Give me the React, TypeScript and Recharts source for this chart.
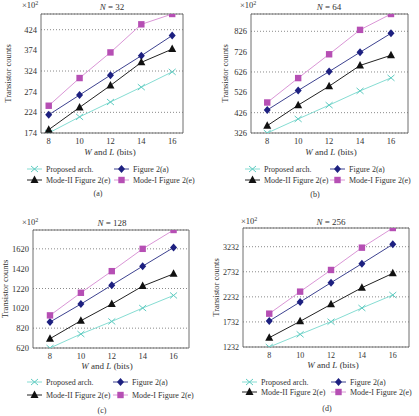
import React from 'react';
import { LineChart, Line, XAxis, YAxis, CartesianGrid, ReferenceArea } from 'recharts';

// word length W = L (bits)
const bits = [8, 10, 12, 14, 16];

// N = 32 (x10^2 transistors)
const proposedA = [174, 213, 249, 285, 322];
const fig2aA = [218, 266, 314, 361, 410];
const modeIIA = [182, 236, 289, 345, 377];
const modeIA = [240, 307, 369, 437, 462];
const ticksA = [174, 224, 274, 324, 374, 424];

// N = 64
const proposedB = [326, 395, 463, 533, 597];
const fig2aB = [439, 535, 628, 723, 816];
const modeIIB = [362, 463, 556, 658, 708];
const modeIB = [476, 596, 713, 833, 911];
const ticksB = [326, 426, 526, 626, 726, 826];

// N = 128
const proposedC = [620, 761, 888, 1023, 1150];
const fig2aC = [882, 1063, 1254, 1445, 1633];
const modeIIC = [714, 895, 1063, 1244, 1368];
const modeIC = [949, 1177, 1395, 1620, 1810];
const ticksC = [620, 820, 1020, 1220, 1420, 1620];

// N = 256
const proposedD = [1232, 1485, 1737, 2010, 2269];
const fig2aD = [1751, 2130, 2515, 2894, 3280];
const modeIID = [1418, 1744, 2083, 2415, 2701];
const modeID = [1897, 2336, 2768, 3213, 3605];
const ticksD = [1232, 1732, 2232, 2732, 3232];

const bitTicks = [8, 10, 12, 14, 16];
const seriesNames = ['Proposed arch.', 'Figure 2(a)', 'Mode-II Figure 2(e)', 'Mode-I Figure 2(e)'];

const FONT = "'Liberation Serif', 'DejaVu Serif', serif";

type Kind = 'cross' | 'diamond' | 'triangle' | 'square';

const STYLES: { key: string; kind: Kind; line: string; mark: string }[] = [
  { key: 'proposed', kind: 'cross', line: '#86ddd3', mark: '#5fcbc1' },
  { key: 'fig2a', kind: 'diamond', line: '#3d4290', mark: '#1d2080' },
  { key: 'modeII', kind: 'triangle', line: '#222222', mark: '#111111' },
  { key: 'modeI', kind: 'square', line: '#da96d6', mark: '#b64fb4' },
];

const Marker = ({ kind, cx, cy, color }: { kind: Kind; cx: number; cy: number; color: string }) => {
  if (kind === 'cross') {
    return (
      <g stroke={color} strokeWidth={1}>
        <line x1={cx - 3.5} y1={cy - 3} x2={cx + 3.5} y2={cy + 3} />
        <line x1={cx - 3.5} y1={cy + 3} x2={cx + 3.5} y2={cy - 3} />
      </g>
    );
  }
  if (kind === 'diamond') {
    return <polygon points={`${cx},${cy - 4} ${cx + 3.5},${cy} ${cx},${cy + 4} ${cx - 3.5},${cy}`} fill={color} />;
  }
  if (kind === 'triangle') {
    return <polygon points={`${cx},${cy - 4.5} ${cx + 4},${cy + 3} ${cx - 4},${cy + 3}`} fill={color} />;
  }
  return <rect x={cx - 3.2} y={cy - 3.2} width={6.4} height={6.4} fill={color} />;
};

const buildRows = (p: number[], a: number[], m2: number[], m1: number[]) =>
  bits.map((b, i) => ({ bits: b, proposed: p[i], fig2a: a[i], modeII: m2[i], modeI: m1[i] }));

interface PanelCfg {
  x0: number; y0: number; w: number; h: number;
  box: { l: number; t: number; r: number; b: number };
  xDomain: [number, number];
  yDomain: [number, number];
  yTicks: number[];
  rows: ReturnType<typeof buildRows>;
  n: number;
  caption: string;
  tickFont: number;
  mulX: number; mulY: number;
  titleX: number; titleY: number;
  yTitleX: number;
  xTitleX: number; xTitleY: number;
  legX: number[]; legY: number[];
  capX: number; capY: number;
}

const panels: PanelCfg[] = [
  {
    x0: 0, y0: 0, w: 209, h: 208,
    box: { l: 41, t: 14, r: 183, b: 133 },
    xDomain: [7.5, 16.7], yDomain: [174, 462], yTicks: ticksA,
    rows: buildRows(proposedA, fig2aA, modeIIA, modeIA), n: 32, caption: '(a)', tickFont: 8.5,
    mulX: 22, mulY: 8, titleX: 112, titleY: 10, yTitleX: 11,
    xTitleX: 110, xTitleY: 155, legX: [27, 114], legY: [169, 180], capX: 98, capY: 196,
  },
  {
    x0: 209, y0: 0, w: 210, h: 208,
    box: { l: 251, t: 14, r: 408, b: 133 },
    xDomain: [6.95, 17.1], yDomain: [326, 911], yTicks: ticksB,
    rows: buildRows(proposedB, fig2aB, modeIIB, modeIB), n: 64, caption: '(b)', tickFont: 8.5,
    mulX: 240, mulY: 8, titleX: 329, titleY: 10, yTitleX: 228,
    xTitleX: 331, xTitleY: 155, legX: [245, 330], legY: [169, 180], capX: 315, capY: 197,
  },
  {
    x0: 0, y0: 208, w: 209, h: 208,
    box: { l: 33, t: 230, r: 189, b: 348 },
    xDomain: [6.9, 17.0], yDomain: [620, 1810], yTicks: ticksC,
    rows: buildRows(proposedC, fig2aC, modeIIC, modeIC), n: 128, caption: '(c)', tickFont: 8.5,
    mulX: 22, mulY: 225, titleX: 112, titleY: 226, yTitleX: 8,
    xTitleX: 107, xTitleY: 369, legX: [27, 113], legY: [382, 395], capX: 102, capY: 413,
  },
  {
    x0: 209, y0: 208, w: 210, h: 208,
    box: { l: 243, t: 228, r: 409, b: 347 },
    xDomain: [6.3, 17.05], yDomain: [1232, 3605], yTicks: ticksD,
    rows: buildRows(proposedD, fig2aD, modeIID, modeID), n: 256, caption: '(d)', tickFont: 8,
    mulX: 241, mulY: 224, titleX: 331, titleY: 225, yTitleX: 219,
    xTitleX: 333, xTitleY: 368, legX: [242, 331], legY: [382, 392], capX: 327, capY: 411,
  },
];

const Panel = ({ cfg }: { cfg: PanelCfg }) => {
  const { box } = cfg;
  const tickStyle = { fontFamily: FONT, fontSize: cfg.tickFont, fill: '#333' };
  return (
    <div style={{ position: 'absolute', left: cfg.x0, top: cfg.y0 }}>
      <LineChart
        width={cfg.w}
        height={cfg.h}
        data={cfg.rows}
        margin={{ top: box.t - cfg.y0, right: cfg.x0 + cfg.w - box.r, left: 0, bottom: 0 }}
      >
        <CartesianGrid vertical={false} stroke="#8a8a8a" strokeDasharray="1 2" />
        <XAxis
          dataKey="bits"
          type="number"
          domain={cfg.xDomain}
          ticks={bitTicks}
          allowDataOverflow
          height={cfg.y0 + cfg.h - box.b}
          axisLine={false}
          tickLine={false}
          tickSize={0}
          tickMargin={5}
          tick={tickStyle}
        />
        <YAxis
          type="number"
          domain={cfg.yDomain}
          ticks={cfg.yTicks}
          allowDataOverflow
          width={box.l - cfg.x0}
          axisLine={false}
          tickLine={false}
          tickSize={0}
          tickMargin={4}
          tick={tickStyle}
        />
        <ReferenceArea
          x1={cfg.xDomain[0]}
          x2={cfg.xDomain[1]}
          y1={cfg.yDomain[0]}
          y2={cfg.yDomain[1]}
          fill="none"
          stroke="#6f6f6f"
          strokeWidth={1}
          ifOverflow="visible"
        />
        {STYLES.map((s) => (
          <Line
            key={s.key}
            dataKey={s.key}
            stroke={s.line}
            strokeWidth={1}
            isAnimationActive={false}
            dot={(p: any) => (
              <Marker key={`${s.key}-${p.index}`} kind={s.kind} cx={p.cx} cy={p.cy} color={s.mark} />
            )}
          />
        ))}
      </LineChart>
    </div>
  );
};

const PanelText = ({ cfg }: { cfg: PanelCfg }) => {
  const midY = (cfg.box.t + cfg.box.b) / 2;
  return (
    <g fontFamily={FONT} fill="#333">
      <text x={cfg.mulX} y={cfg.mulY} fontSize={8.5}>
        ×10<tspan fontSize={6} dy={-3}>2</tspan>
      </text>
      <text x={cfg.titleX} y={cfg.titleY} fontSize={9} textAnchor="middle">
        <tspan fontStyle="italic">N</tspan> = {cfg.n}
      </text>
      <text
        x={cfg.yTitleX}
        y={midY}
        fontSize={8.5}
        textAnchor="middle"
        transform={`rotate(-90 ${cfg.yTitleX} ${midY})`}
      >
        Transistor counts
      </text>
      <text x={cfg.xTitleX} y={cfg.xTitleY} fontSize={9} textAnchor="middle">
        <tspan fontStyle="italic">W</tspan> and <tspan fontStyle="italic">L</tspan> (bits)
      </text>
      {STYLES.map((s, i) => {
        // legend: row 0 = proposed, fig2a; row 1 = modeII, modeI
        const lx = cfg.legX[i % 2];
        const ly = cfg.legY[Math.floor(i / 2)];
        return (
          <g key={s.key}>
            <line x1={lx} y1={ly} x2={lx + 15} y2={ly} stroke={s.line} strokeWidth={1} />
            <Marker kind={s.kind} cx={lx + 7.5} cy={ly} color={s.mark} />
            <text x={lx + 19} y={ly + 3} fontSize={8}>{seriesNames[i]}</text>
          </g>
        );
      })}
      <text x={cfg.capX} y={cfg.capY} fontSize={8} textAnchor="middle">{cfg.caption}</text>
    </g>
  );
};

const App: React.FC = () => {
  return (
    <div style={{ position: 'absolute', left: 0, top: 0, width: 419, height: 416, background: '#fff' }}>
      {panels.map((cfg) => (
        <Panel key={cfg.caption} cfg={cfg} />
      ))}
      <svg
        width={419}
        height={416}
        style={{ position: 'absolute', left: 0, top: 0, pointerEvents: 'none' }}
      >
        {panels.map((cfg) => (
          <PanelText key={cfg.caption} cfg={cfg} />
        ))}
      </svg>
    </div>
  );
};

export default App;
